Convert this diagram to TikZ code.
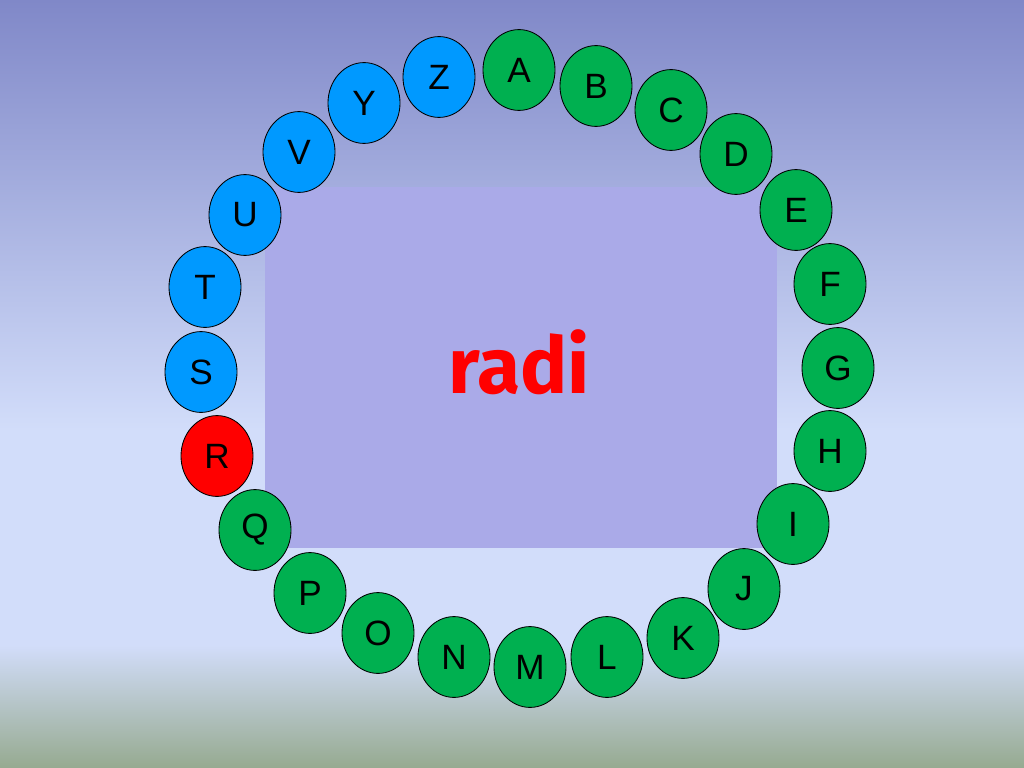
\documentclass[tikz,border=0pt]{standalone}
\usepackage{fontspec}
\usetikzlibrary{shapes.geometric}
\setmainfont{Liberation Sans}
\newfontfamily\radifont{Fira Sans}
\definecolor{bgtop}{RGB}{128,136,200}
\definecolor{bglight}{RGB}{210,221,250}
\definecolor{bgbot}{RGB}{150,170,144}
\definecolor{panel}{RGB}{170,170,232}
\definecolor{lettergreen}{RGB}{0,176,80}
\definecolor{letterblue}{RGB}{0,153,255}
\pgfdeclareverticalshading{bgshade}{100bp}{color(0bp)=(bgbot); color(25bp)=(bgbot); color(33bp)=(bglight); color(47bp)=(bglight); color(75bp)=(bgtop); color(100bp)=(bgtop)}
\begin{document}
\begin{tikzpicture}[
        x=0.025cm, y=-0.025cm,
        letter/.style={draw, ellipse, line width=0.6pt, inner sep=0pt,
            minimum width=1.8cm, minimum height=2.02cm, font=\fontsize{25}{25}\selectfont},
        todo/.style={letter, fill=lettergreen},
        done/.style={letter, fill=letterblue},
        current/.style={letter, fill=red}
    ]
        \useasboundingbox (0,0) rectangle (1024,768);
        \shade[shading=bgshade] (0,0) rectangle (1024,768);
        \fill[panel] (265,187) rectangle (777,548);
        \node[text=red, font=\radifont\bfseries\fontsize{56}{56}\selectfont] (word) at (519,362) {radi};
        % ring of letters
        \node[todo] (A) at (519,70) {A};
        \node[todo] (B) at (596,86) {B};
        \node[todo] (C) at (671,110) {C};
        \node[todo] (D) at (736,154) {D};
        \node[todo] (E) at (796,210) {E};
        \node[todo] (F) at (830,284) {F};
        \node[todo] (G) at (838,368) {G};
        \node[todo] (H) at (830,451) {H};
        \node[todo] (I) at (793,524) {I};
        \node[todo] (J) at (744,589) {J};
        \node[todo] (K) at (683,638) {K};
        \node[todo] (L) at (607,657) {L};
        \node[todo] (M) at (530,667) {M};
        \node[todo] (N) at (454,657) {N};
        \node[todo] (O) at (378,633) {O};
        \node[todo] (P) at (310,593) {P};
        \node[todo] (Q) at (255,530) {Q};
        \node[current] (R) at (217,456) {R};
        \node[done] (S) at (201,372) {S};
        \node[done] (T) at (205,287) {T};
        \node[done] (U) at (245,215) {U};
        \node[done] (V) at (299,152) {V};
        \node[done] (Y) at (364,103) {Y};
        \node[done] (Z) at (439,77) {Z};
\end{tikzpicture}
\end{document}
